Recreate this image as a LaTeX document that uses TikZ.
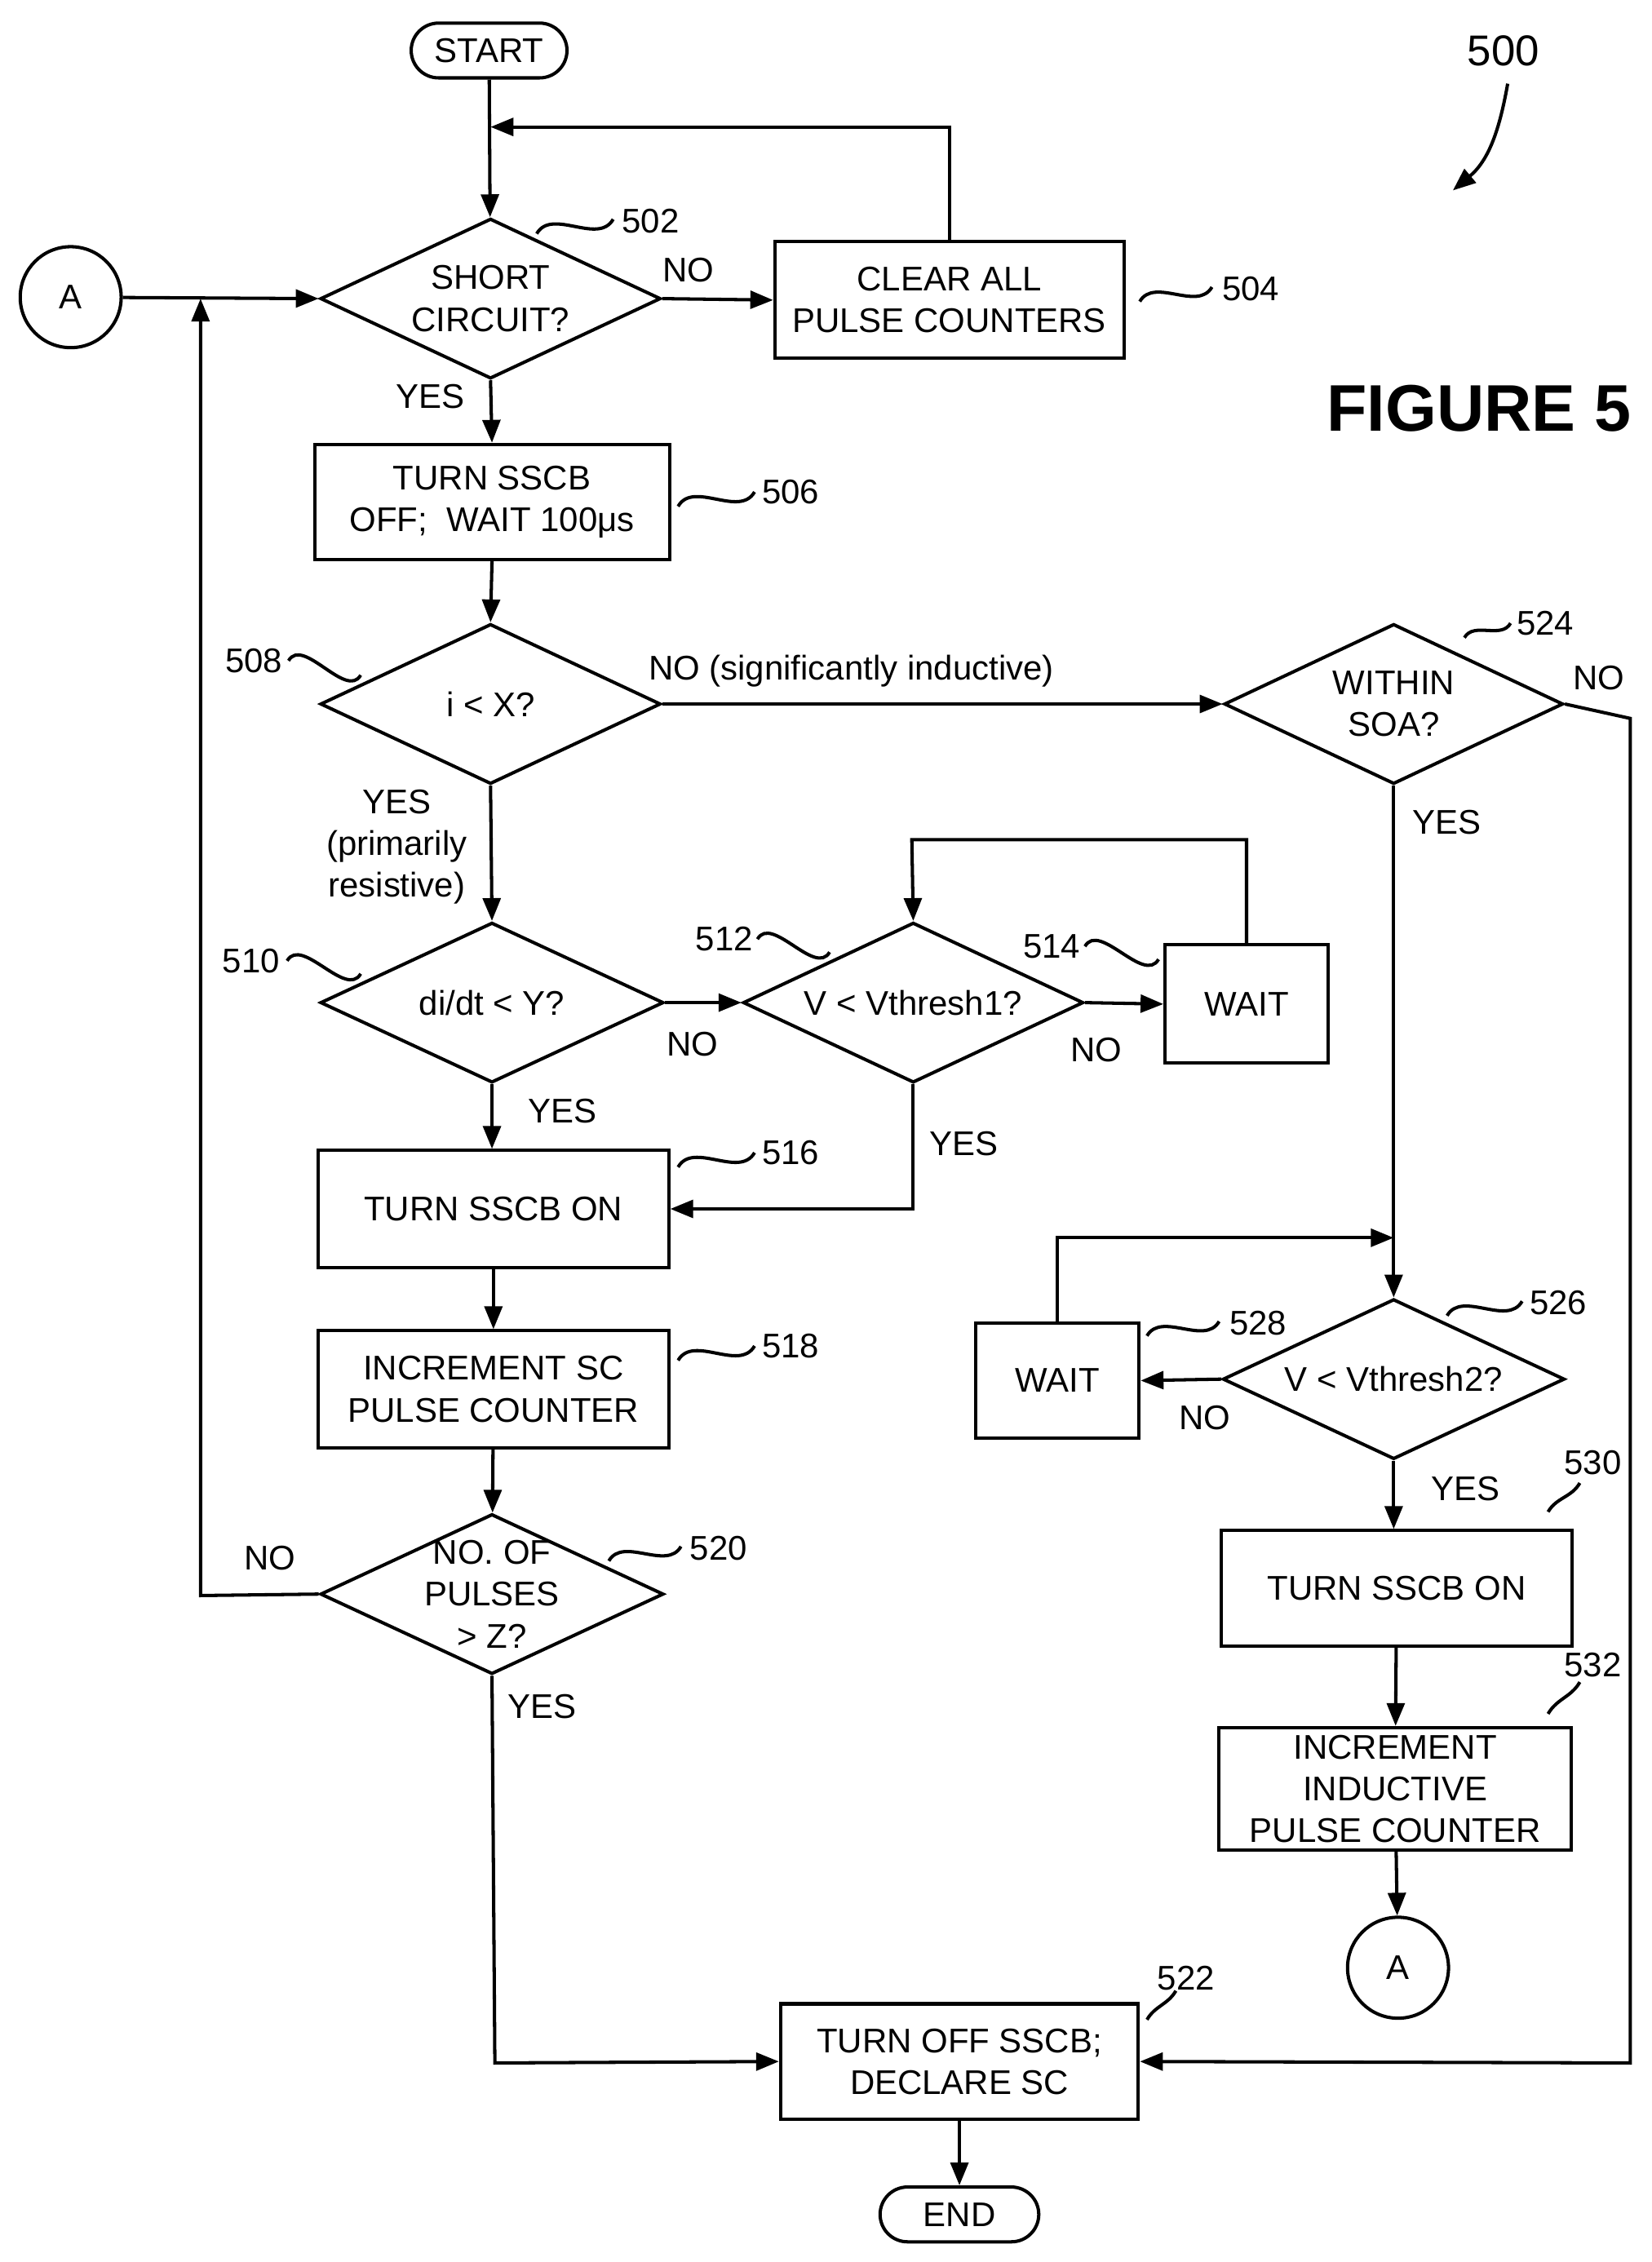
\documentclass[tikz,border=0pt]{standalone}
\usepackage{fontspec}
\setmainfont{Liberation Sans}
\usetikzlibrary{shapes.geometric,arrows.meta}
\begin{document}
\begin{tikzpicture}[x=0.02cm,y=-0.02cm,
  every node/.style={font=\fontsize{13.5}{16.5}\selectfont, align=center, inner sep=0pt},
  arr/.style={line width=1.3pt,-{Triangle[length=9pt,width=7pt]}},
  box/.style={draw,line width=1.3pt,rectangle},
  dia/.style={draw,line width=1.3pt,diamond,minimum width=4.72cm,minimum height=2.22cm},
  term/.style={draw,line width=1.3pt,rectangle,rounded corners=0.38cm,minimum height=0.76cm},
  circ/.style={draw,line width=1.3pt,circle,minimum size=1.4cm},
  sq/.style={line width=1.3pt}]
\useasboundingbox (0,0) rectangle (1145,1568);
% nodes
\node[term,minimum width=2.16cm] (start) at (339,35) {START};
\node[dia] (d502) at (340,207) {}; \node (t502) at (d502) {SHORT\\CIRCUIT?};
\node[box,minimum width=4.84cm,minimum height=1.62cm] (b504) at (658,208) {CLEAR ALL\\PULSE COUNTERS};
\node[circ] (a1) at (49,206) {A};
\node[box,minimum width=4.92cm,minimum height=1.6cm] (b506) at (341,348) {TURN SSCB\\OFF;\ \ WAIT 100μs};
\node[dia] (d508) at (340,488) {}; \node (t508) at (d508) {i < X?};
\node[dia,minimum width=4.7cm] (d524) at (966,488) {}; \node (t524) at (d524) {WITHIN\\SOA?};
\node[dia,minimum width=4.76cm] (d510) at (341,695) {}; \node (t510) at (d510) {di/dt < Y?};
\node[dia] (d512) at (633,695) {}; \node (t512) at (d512) {V < Vthresh1?};
\node[box,minimum width=2.26cm,minimum height=1.64cm] (b514) at (864,696) {WAIT};
\node[box,minimum width=4.86cm,minimum height=1.62cm] (b516) at (342,838) {TURN SSCB ON};
\node[box,minimum width=4.86cm,minimum height=1.62cm] (b518) at (342,963) {INCREMENT SC\\PULSE COUNTER};
\node[dia,minimum width=4.76cm] (d520) at (341,1105) {}; \node (t520) at (d520) {NO. OF\\PULSES\\> Z?};
\node[dia,minimum width=4.74cm] (d526) at (966,956) {}; \node (t526) at (d526) {V < Vthresh2?};
\node[box,minimum width=2.26cm,minimum height=1.6cm] (b528) at (733,957) {WAIT};
\node[box,minimum width=4.86cm,minimum height=1.6cm] (b530) at (968,1101) {TURN SSCB ON};
\node[box,minimum width=4.88cm,minimum height=1.7cm] (b532) at (967,1240) {INCREMENT\\INDUCTIVE\\PULSE COUNTER};
\node[circ] (a2) at (969,1364) {A};
\node[box,minimum width=4.96cm,minimum height=1.6cm] (b522) at (665,1429) {TURN OFF SSCB;\\DECLARE SC};
\node[term,minimum width=2.2cm] (end) at (665,1535) {END};
\node[font=\fontsize{26}{30}\selectfont\bfseries] (fig) at (1025,283) {FIGURE 5};
\node[font=\fontsize{17}{20}\selectfont] (n500) at (1042,35) {500};
\coordinate (c500a) at (1045,58);
\coordinate (c500b) at (1007,132);
\draw[arr] (c500a) to[out=260,in=40] (c500b);
% connectors
\draw[arr] (start) -- (d502);
\coordinate (p504) at (658,88); \coordinate (p502) at (340,88);
\draw[arr] (b504.north) -- (p504) -- (p502);
\draw[arr] (d502.east) -- (b504.west);
\draw[arr] (a1) -- (d502.west);
\draw[arr] (d502.south) -- (b506.north);
\draw[arr] (b506.south) -- (d508.north);
\draw[arr] (d508.east) -- (d524.west);
\coordinate (r524) at (1130,498); \coordinate (r522) at (1130,1430);
\draw[arr] (d524.east) -- (r524) -- (r522) -- (b522.east);
\draw[arr] (d524.south) -- (d526.north);
\draw[arr] (d508.south) -- (d510.north);
\draw[arr] (d510.east) -- (d512.west);
\draw[arr] (d512.east) -- (b514.west);
\coordinate (l514a) at (864,582); \coordinate (l514b) at (632,582);
\draw[arr] (b514.north) -- (l514a) -- (l514b) -- (d512.north);
\coordinate (l512) at (633,838);
\draw[arr] (d512.south) -- (l512) -- (b516.east);
\draw[arr] (d510.south) -- (b516.north-|d510.south);
\draw[arr] (b516) -- (b518);
\draw[arr] (b518) -- (d520);
\coordinate (l520a) at (139,1106); \coordinate (l520b) at (139,207);
\draw[arr] (d520.west) -- (l520a) -- (l520b);
\coordinate (l520c) at (343,1430);
\draw[arr] (d520.south) -- (l520c) -- (b522.west);
\coordinate (l528a) at (733,858); \coordinate (l528b) at (966,858);
\draw[arr] (b528.north) -- (l528a) -- (l528b);
\draw[arr] (d526.west) -- (b528.east);
\draw[arr] (d526.south) -- (b530.north-|d526.south);
\draw[arr] (b530) -- (b532);
\draw[arr] (b532) -- (a2);
\draw[arr] (b522) -- (end);
% edge labels
\node at (477,187) {NO};
\node at (298,275) {YES};
\node at (590,465) {NO (significantly inductive)};
\node at (1108,470) {NO};
\node at (1003,570) {YES};
\node at (275,587) {YES\\(primarily\\resistive)};
\node at (480,724) {NO};
\node at (760,728) {NO};
\node at (668,793) {YES};
\node at (390,770) {YES};
\node at (187,1080) {NO};
\node at (376,1183) {YES};
\node at (835,983) {NO};
\node at (1016,1032) {YES};
% reference numerals with squiggles
\newcommand\refsq[4]{\draw[sq] (#1,#2) to[out=60,in=240] (#3,#4);}
\refsq{372}{162}{425}{152}\node at (451,153) {502};
\refsq{790}{209}{840}{199}\node at (867,200) {504};
\refsq{470}{351}{523}{341}\node at (548,341) {506};
\refsq{200}{458}{250}{468}\node at (176,458) {508};
\refsq{1015}{442}{1047}{432}\node at (1071,432) {524};
\refsq{199}{666}{250}{675}\node at (174,666) {510};
\refsq{525}{651}{575}{660}\node at (502,651) {512};
\refsq{752}{656}{803}{665}\node at (729,656) {514};
\refsq{470}{809}{523}{799}\node at (548,799) {516};
\refsq{470}{943}{523}{933}\node at (548,933) {518};
\refsq{422}{1082}{472}{1072}\node at (498,1073) {520};
\refsq{1003}{912}{1055}{902}\node at (1080,903) {526};
\refsq{795}{926}{845}{916}\node at (872,917) {528};
\refsq{1073}{1048}{1095}{1028}\node at (1104,1014) {530};
\refsq{1073}{1188}{1095}{1166}\node at (1104,1154) {532};
\refsq{795}{1400}{815}{1380}\node at (822,1371) {522};
\end{tikzpicture}
\end{document}
